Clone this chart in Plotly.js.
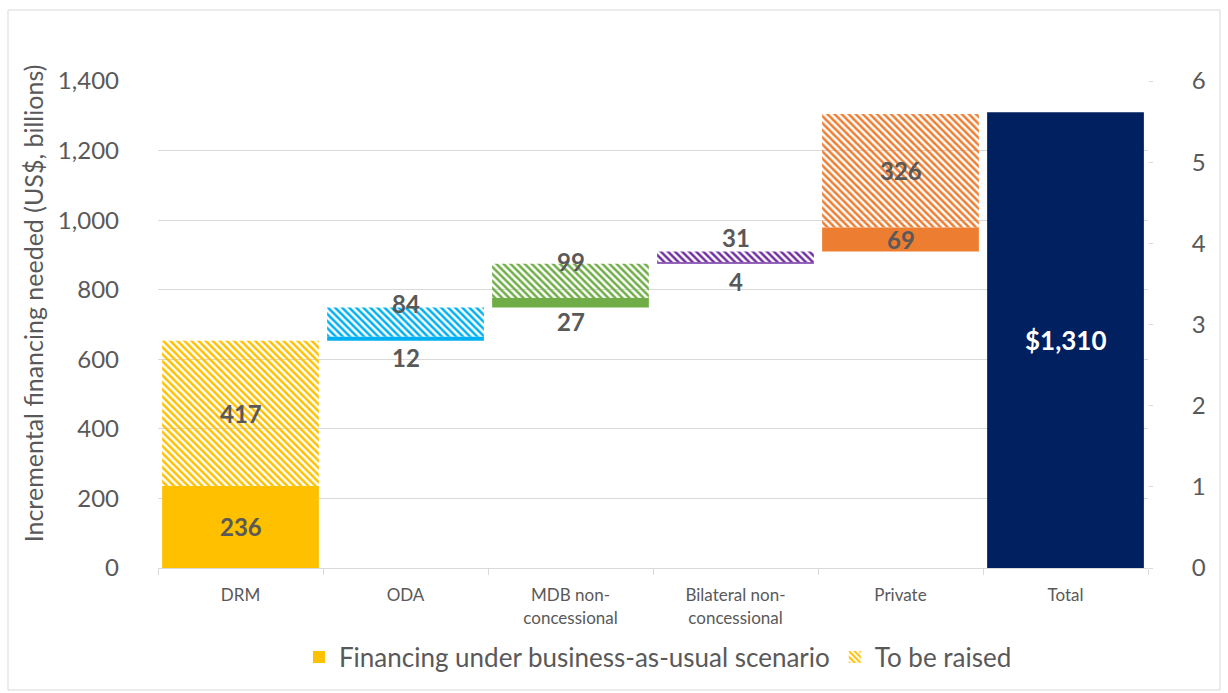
<!DOCTYPE html>
<html><head><meta charset="utf-8">
<script src="https://cdn.plot.ly/plotly-3.0.1.min.js"></script>
<style>html,body{margin:0;padding:0;background:#fff;}#chart{width:1228px;height:693px;}</style>
</head><body><div id="chart"></div>
<script>
const categories = ["DRM", "ODA", "MDB non-<br>concessional", "Bilateral non-<br>concessional", "Private"];
const totalCategory = "Total";
const bauValues = [236, 12, 27, 4, 69];
const raisedValues = [417, 84, 99, 31, 326];
const totalValue = 1310;
const totalLabel = "$1,310";
const colors = ["#FFC000", "#00B0F0", "#70AD47", "#7030A0", "#ED7D31"];
const totalColor = "#002060";
const leftTicks = [0, 200, 400, 600, 800, 1000, 1200, 1400];
const rightTicks = [0, 1, 2, 3, 4, 5, 6];

// waterfall bases
const bauBase = [], raisedBase = [];
let run = 0;
for (let i = 0; i < categories.length; i++) {
  bauBase.push(run); run += bauValues[i];
  raisedBase.push(run); run += raisedValues[i];
}

const labelColor = "#595959";
const font = "Lato, 'Open Sans', sans-serif";

const traces = [
  {type: "bar", name: "Financing under business-as-usual scenario", x: categories, y: bauValues, base: bauBase,
   marker: {color: colors, line: {width: 0}}, width: 0.95, hoverinfo: "skip"},
  {type: "bar", name: "To be raised", x: categories, y: raisedValues, base: raisedBase,
   marker: {color: colors, line: {width: 0}, pattern: {shape: "\\", fgcolor: colors, bgcolor: "#ffffff", size: 5, solidity: 0.5, fillmode: "replace"}},
   width: 0.95, hoverinfo: "skip"},
  {type: "bar", name: "Total", x: [totalCategory], y: [totalValue], base: [0], marker: {color: totalColor}, width: 0.95, showlegend: false, hoverinfo: "skip"},
  {type: "scatter", x: [totalCategory], y: [null], yaxis: "y2", showlegend: false, hoverinfo: "skip", mode: "markers"}
];

const annotations = [];
const lf = {family: font, size: 24, color: labelColor, weight: "bold"};
for (let i = 0; i < categories.length; i++) {
  const b = bauValues[i];
  annotations.push({x: categories[i], y: bauBase[i] + b / 2, text: String(b), showarrow: false, font: lf,
    yanchor: "middle", yshift: b >= 50 ? 0 : -19});
  const r = raisedValues[i];
  annotations.push({x: categories[i], y: raisedBase[i] + r / 2, text: String(r), showarrow: false, font: lf,
    yanchor: "middle", yshift: r >= 150 ? 0 : 19});
}
annotations.push({x: totalCategory, y: totalValue / 2, text: totalLabel, showarrow: false, font: {family: font, size: 26, color: "#ffffff", weight: "bold"}});
annotations.push({xref: "paper", yref: "paper", x: -0.126, y: 0.544, xanchor: "center", yanchor: "middle", textangle: -90, showarrow: false,
  text: "Incremental financing needed (US$, billions)", font: {family: font, size: 25, color: labelColor}});

const layout = {
  width: 1228, height: 693,
  margin: {l: 158, r: 80, t: 81, b: 125},
  paper_bgcolor: "#ffffff", plot_bgcolor: "#ffffff",
  font: {family: font, color: labelColor},
  barmode: "overlay", bargap: 0.05,
  showlegend: true,
  legend: {orientation: "h", x: 0.505, xanchor: "center", y: -0.183, yanchor: "middle", font: {family: font, size: 26, color: labelColor}, traceorder: "normal", itemwidth: 30},
  xaxis: {type: "category", categoryorder: "array", categoryarray: categories.concat([totalCategory]),
    showline: true, linecolor: "#d9d9d9", linewidth: 1, ticks: "outside", tickson: "boundaries", ticklen: 6, tickcolor: "#d9d9d9",
    ticklabelstandoff: 12,
    tickfont: {family: font, size: 17, color: labelColor}, showgrid: false, fixedrange: true},
  yaxis: {range: [0, 1400], tickvals: leftTicks, ticktext: leftTicks.map(v => v.toLocaleString("en-US")),
    showgrid: true, gridcolor: "#d9d9d9", gridwidth: 1, zeroline: false, ticks: "", ticklabelstandoff: 38,
    tickfont: {family: font, size: 24, color: labelColor}, fixedrange: true},
  yaxis2: {overlaying: "y", side: "right", range: [0, 6], tickvals: rightTicks, showgrid: false, zeroline: false,
    ticks: "outside", ticklen: 4, tickcolor: "#d9d9d9", showline: false, ticklabelstandoff: 34,
    tickfont: {family: font, size: 24, color: labelColor}, fixedrange: true},
  annotations: annotations,
  shapes: [{type: "rect", xref: "paper", yref: "paper", x0: -0.1515, x1: 1.0727, y0: -0.2505, y1: 1.1458,
    line: {color: "#d9d9d9", width: 1}, fillcolor: "rgba(0,0,0,0)", layer: "below"}]
};

Plotly.newPlot("chart", traces, layout, {displayModeBar: false, staticPlot: true});
</script>
</body></html>
